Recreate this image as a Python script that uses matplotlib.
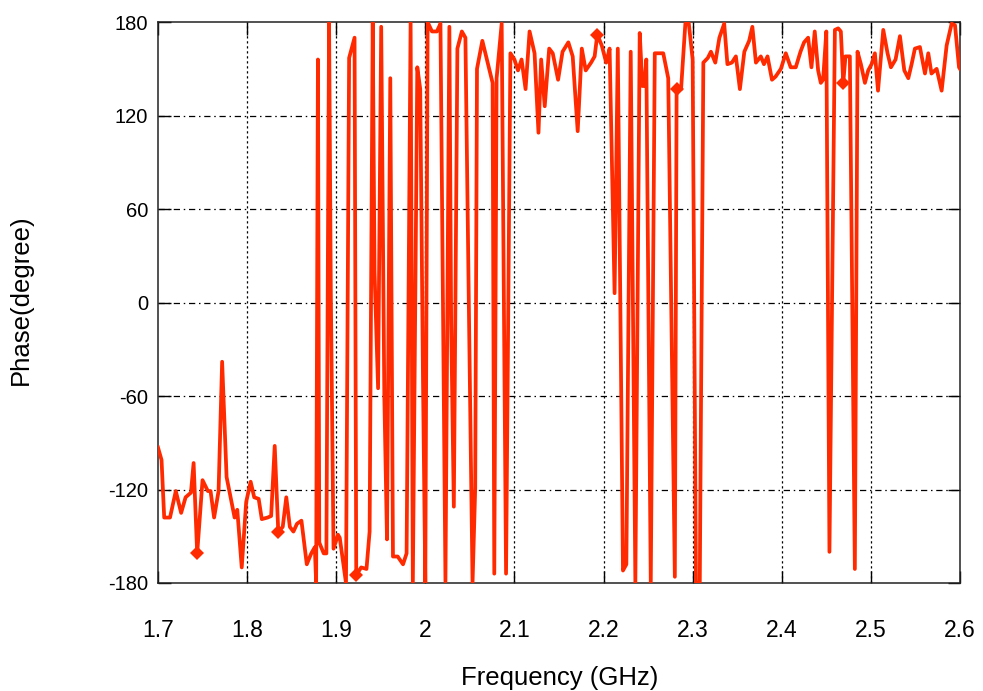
import numpy as np
import matplotlib
matplotlib.use("Agg")
import matplotlib.pyplot as plt

freq = [1.700, 1.704, 1.707, 1.7135, 1.720, 1.726, 1.731, 1.737, 1.740, 1.744,
        1.750, 1.756, 1.759, 1.763, 1.768, 1.772, 1.777, 1.786, 1.789, 1.794,
        1.799, 1.804, 1.808, 1.813, 1.8165, 1.823, 1.827, 1.831, 1.835, 1.840,
        1.844, 1.848, 1.852, 1.856, 1.861, 1.867, 1.872, 1.876, 1.8775, 1.8795,
        1.881, 1.886, 1.889, 1.892, 1.894, 1.897, 1.902, 1.904, 1.911, 1.9145,
        1.9206, 1.9225, 1.928, 1.934, 1.9375, 1.941, 1.943, 1.947, 1.9505, 1.954,
        1.957, 1.9607, 1.9637, 1.969, 1.975, 1.979, 1.9835, 1.986, 1.991, 1.9943,
        1.9974, 2.000, 2.0026, 2.0075, 2.013, 2.017, 2.0226, 2.027, 2.029, 2.032,
        2.036, 2.041, 2.045, 2.049, 2.053, 2.056, 2.058, 2.064, 2.0755, 2.0774,
        2.080, 2.0857, 2.0906, 2.0955, 2.100, 2.104, 2.108, 2.1125, 2.117, 2.1226,
        2.127, 2.130, 2.134, 2.139, 2.143, 2.149, 2.154, 2.1605, 2.1654, 2.171,
        2.1756, 2.180, 2.186, 2.190, 2.193, 2.198, 2.203, 2.2068, 2.2124, 2.216,
        2.2218, 2.2256, 2.2305, 2.2357, 2.2406, 2.2436, 2.246, 2.248, 2.253, 2.2575,
        2.263, 2.267, 2.2726, 2.280, 2.282, 2.287, 2.2918, 2.2955, 2.300, 2.3037,
        2.308, 2.312, 2.317, 2.3205, 2.3254, 2.330, 2.3354, 2.339, 2.344, 2.3485,
        2.353, 2.358, 2.3634, 2.367, 2.371, 2.3765, 2.380, 2.384, 2.389, 2.393,
        2.399, 2.4045, 2.410, 2.4157, 2.421, 2.425, 2.4296, 2.4333, 2.437, 2.4408,
        2.4438, 2.4464, 2.450, 2.4535, 2.4596, 2.4633, 2.4663, 2.469, 2.4715, 2.4764,
        2.482, 2.485, 2.4888, 2.4933, 2.497, 2.5008, 2.5045, 2.508, 2.5139, 2.5187,
        2.5225, 2.5277, 2.5326, 2.5375, 2.542, 2.5457, 2.5494, 2.555, 2.5607, 2.5644,
        2.568, 2.5738, 2.5794, 2.585, 2.5906, 2.5944, 2.5989, 2.600]

phase = [-93, -101, -138, -138, -121, -135, -125, -122, -103, -161,
         -114, -121, -121, -138, -121, -38, -112, -138, -133, -170,
         -128, -115, -125, -126, -139, -138, -137, -92, -147, -144,
         -125, -144, -147, -142, -140, -168, -161, -157, -180, 156,
         -154, -161, -161, 180, 5, -158, -149, -151, -180, 157,
         170, -175, -170, -171, -147, 180, 20, -55, 177, -60,
         -152, 144, -163, -163, -168, -161, 180, -180, 151, 137,
         -50, -180, 180, 174, 174, 179, -179, 177, -13, -131,
         163, 174, 170, -8, -180, -119, 150, 168, 141, -174,
         144, 179, -174, 160, 156, 149, 156, 137, 174, 160,
         109, 156, 126, 163, 160, 143, 161, 167, 158, 110,
         163, 149, 154, 158, 172, 165, 154, 163, 6, 163,
         -172, -168, 161, -180, 173, 139, 139, 156, -180, 160,
         160, 160, 144, -176, 137, 137, 179, 180, 156, -180,
         -180, 154, 157, 161, 154, 170, 179, 153, 154, 158,
         137, 161, 168, 177, 154, 158, 153, 158, 143, 145,
         150, 160, 151, 151, 161, 167, 170, 151, 174, 149,
         141, 143, 174, -160, 175, 176, 174, 141, 158, 158,
         -171, 161, 153, 141, 149, 153, 160, 136, 175, 160,
         151, 156, 171, 149, 144, 153, 163, 164, 147, 160,
         147, 150, 136, 165, 179, 178, 151, 150]

marker_freqs = [1.744, 1.835, 1.9225, 2.193, 2.282, 2.469]

xticks = [1.7, 1.8, 1.9, 2.0, 2.1, 2.2, 2.3, 2.4, 2.5, 2.6]
xticklabels = ["1.7", "1.8", "1.9", "2", "2.1", "2.2", "2.3", "2.4", "2.5", "2.6"]
yticks = [-180, -120, -60, 0, 60, 120, 180]
yticklabels = ["-180", "-120", "-60", "0", "60", "120", "180"]

plt.rcParams['font.family'] = ['Liberation Sans', 'DejaVu Sans']
plt.rcParams['axes.unicode_minus'] = False

fig = plt.figure(figsize=(9.83, 6.91), dpi=100)
ax = fig.add_axes([0.1607, 0.1563, 0.9766 - 0.1607, 0.968 - 0.1563])

f_arr = np.array(freq)
mark_idx = [int(np.argmin(np.abs(f_arr - m))) for m in marker_freqs]

ax.plot(freq, phase, color='#ff2a00', lw=2.7, marker='D', markersize=7,
        markevery=mark_idx, markeredgewidth=0, zorder=3, clip_on=True)

ax.set_xlim(1.7, 2.6)
ax.set_ylim(-180, 180)
ax.set_xticks(xticks)
ax.set_xticklabels(xticklabels)
ax.set_yticks(yticks)
ax.set_yticklabels(yticklabels)

for y in yticks[1:-1]:
    ax.axhline(y, color='black', lw=0.9, ls=(0, (5, 3, 1.2, 3)), zorder=1)
for x in xticks[1:-1]:
    ax.axvline(x, color='black', lw=0.9, ls=(0, (1.8, 2.2)), zorder=1)

ax.tick_params(direction='in', length=9, width=1.0, top=True, right=True,
               colors='black')
ax.tick_params(axis='y', labelsize=14.5, pad=7)
ax.tick_params(axis='x', labelsize=16.5, pad=26)
for s in ax.spines.values():
    s.set_linewidth(1.1)
    s.set_color('#222222')

ax.set_xlabel('Frequency (GHz)', fontsize=18.5, va='center')
ax.set_ylabel('Phase(degree)', fontsize=18.5, va='center')
ax.xaxis.set_label_coords((560 - 158) / 802, (583 - 678) / 561)
ax.yaxis.set_label_coords((21 - 158) / 802, (583 - 300) / 561)

fig.savefig('out.png', dpi=100)
